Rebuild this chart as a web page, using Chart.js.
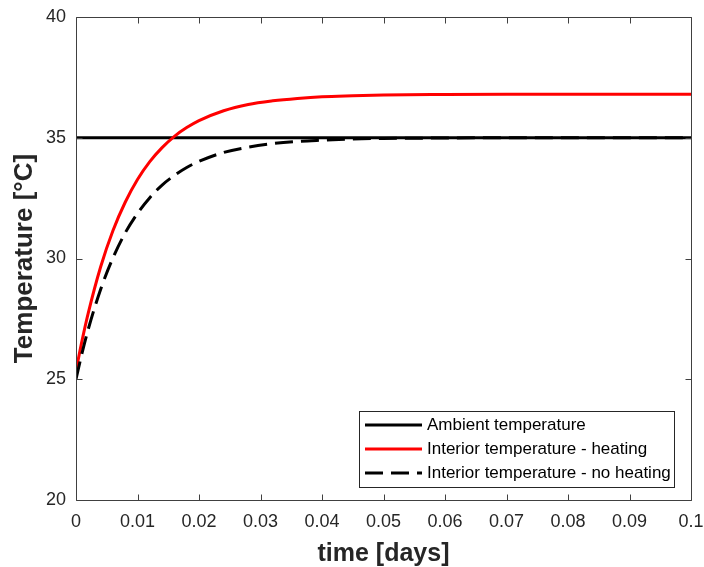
<!DOCTYPE html>
<html lang="en">
<head>
    <meta charset="UTF-8">
    <title>Interior temperature</title>
    <script src="https://cdn.jsdelivr.net/npm/chart.js"></script>
    <style>
        body {
            margin: 0;
            padding: 0;
            background-color: #fff;
        }

        .chart-container {
            position: relative;
            width: 704px;
            height: 567px;
        }
    </style>
</head>
<body>
    <div class="chart-container">
        <canvas id="tempChart"></canvas>
    </div>

    <script>
        // data
        const seriesNames = ["Ambient temperature", "Interior temperature - heating", "Interior temperature - no heating"];
        const ambientTime = [0, 0.1];
        const ambientTemp = [35, 35];
        const timeDays = [0, 0.001, 0.002, 0.004, 0.006, 0.008, 0.010, 0.012, 0.014, 0.016, 0.018, 0.020,
            0.024, 0.028, 0.032, 0.036, 0.040, 0.045, 0.050, 0.060, 0.070, 0.080, 0.090, 0.100];
        const heatingTemp = [25.35, 26.62, 27.75, 29.65, 31.15, 32.33, 33.27, 34.01, 34.59, 35.06, 35.42, 35.71,
            36.12, 36.38, 36.53, 36.63, 36.70, 36.74, 36.77, 36.79, 36.80, 36.80, 36.80, 36.80];
        const noHeatingTemp = [25.0, 26.10, 27.08, 28.72, 30.02, 31.06, 31.87, 32.52, 33.04, 33.44, 33.77, 34.02,
            34.39, 34.61, 34.76, 34.85, 34.90, 34.95, 34.97, 34.99, 35.0, 35.0, 35.0, 35.0];

        const xTickValues = [0, 0.01, 0.02, 0.03, 0.04, 0.05, 0.06, 0.07, 0.08, 0.09, 0.1];
        const xTickLabels = ["0", "0.01", "0.02", "0.03", "0.04", "0.05", "0.06", "0.07", "0.08", "0.09", "0.1"];
        const yTickValues = [20, 25, 30, 35, 40];

        const axisColor = "#404040";
        const textColor = "#262626";

        function toPoints(xs, ys) {
            return xs.map((x, i) => ({ x: x, y: ys[i] }));
        }

        // MATLAB style box with inward ticks + legend in the lower right
        const boxPlugin = {
            id: "boxPlugin",
            afterDatasetsDraw(chart) {
                const ctx = chart.ctx;
                const a = chart.chartArea;
                const xs = chart.scales.x;
                const ys = chart.scales.y;
                const L = Math.round(a.left) + 0.5, R = Math.round(a.right) + 0.5;
                const T = Math.round(a.top) + 0.5, B = Math.round(a.bottom) + 0.5;
                ctx.save();
                ctx.strokeStyle = axisColor;
                ctx.lineWidth = 1;
                ctx.setLineDash([]);
                ctx.beginPath();
                ctx.rect(L, T, R - L, B - T);
                xTickValues.forEach(v => {
                    const px = Math.round(xs.getPixelForValue(v)) + 0.5;
                    ctx.moveTo(px, B); ctx.lineTo(px, B - 6);
                    ctx.moveTo(px, T); ctx.lineTo(px, T + 6);
                });
                yTickValues.forEach(v => {
                    const py = Math.round(ys.getPixelForValue(v)) + 0.5;
                    ctx.moveTo(L, py); ctx.lineTo(L + 6, py);
                    ctx.moveTo(R, py); ctx.lineTo(R - 6, py);
                });
                ctx.stroke();

                // legend
                const lx = 359.5, ly = 411.5, lw = 315, lh = 76;
                ctx.fillStyle = "#fff";
                ctx.fillRect(lx, ly, lw, lh);
                ctx.strokeStyle = "#262626";
                ctx.strokeRect(lx, ly, lw, lh);
                const rowY = [425, 449, 473];
                ctx.font = "17px 'Liberation Sans', Arial, sans-serif";
                ctx.textBaseline = "middle";
                chart.data.datasets.forEach((ds, i) => {
                    ctx.strokeStyle = ds.borderColor;
                    ctx.lineWidth = ds.borderWidth;
                    ctx.setLineDash(ds.borderDash || []);
                    ctx.beginPath();
                    ctx.moveTo(365, rowY[i]);
                    ctx.lineTo(422, rowY[i]);
                    ctx.stroke();
                    ctx.fillStyle = "#000";
                    ctx.fillText(ds.label, 427, rowY[i]);
                });
                ctx.restore();
            }
        };

        const ctx = document.getElementById("tempChart");

        new Chart(ctx, {
            type: "line",
            data: {
                datasets: [
                    {
                        label: seriesNames[0],
                        data: toPoints(ambientTime, ambientTemp),
                        borderColor: "#000000",
                        borderWidth: 3,
                        pointRadius: 0,
                        order: 3
                    },
                    {
                        label: seriesNames[1],
                        data: toPoints(timeDays, heatingTemp),
                        borderColor: "#ff0000",
                        borderWidth: 3,
                        pointRadius: 0,
                        cubicInterpolationMode: "monotone",
                        order: 2
                    },
                    {
                        label: seriesNames[2],
                        data: toPoints(timeDays, noHeatingTemp),
                        borderColor: "#000000",
                        borderWidth: 3,
                        borderDash: [18, 8],
                        pointRadius: 0,
                        cubicInterpolationMode: "monotone",
                        order: 1
                    }
                ]
            },
            options: {
                responsive: true,
                maintainAspectRatio: false,
                animation: false,
                layout: { padding: { top: 17, right: 13, left: 0, bottom: 0 } },
                plugins: {
                    legend: { display: false },
                    tooltip: { enabled: false }
                },
                scales: {
                    x: {
                        type: "linear",
                        min: 0,
                        max: 0.1,
                        afterBuildTicks: s => { s.ticks = xTickValues.map(v => ({ value: v })); },
                        afterFit: s => { s.height = 67; s.paddingLeft = 0; s.paddingRight = 0; },
                        grid: { display: false, drawTicks: false },
                        border: { display: false },
                        ticks: {
                            padding: 11,
                            maxRotation: 0,
                            autoSkip: false,
                            color: textColor,
                            font: { family: "'Liberation Sans', Arial, sans-serif", size: 18 },
                            callback: (value, index) => xTickLabels[index]
                        },
                        title: {
                            display: true,
                            text: "time [days]",
                            color: textColor,
                            padding: { top: 1, bottom: 0 },
                            font: { family: "'Liberation Sans', Arial, sans-serif", size: 25, weight: "bold", lineHeight: 1 }
                        }
                    },
                    y: {
                        type: "linear",
                        min: 20,
                        max: 40,
                        afterBuildTicks: s => { s.ticks = yTickValues.map(v => ({ value: v })); },
                        afterFit: s => { s.width = 76; s.paddingTop = 0; s.paddingBottom = 0; },
                        grid: { display: false, drawTicks: false },
                        border: { display: false },
                        ticks: {
                            padding: 10,
                            color: textColor,
                            font: { family: "'Liberation Sans', Arial, sans-serif", size: 18 }
                        },
                        title: {
                            display: true,
                            text: "Temperature [°C]",
                            color: textColor,
                            padding: { top: 12, bottom: 0 },
                            font: { family: "'Liberation Sans', Arial, sans-serif", size: 26, weight: "bold", lineHeight: 1 }
                        }
                    }
                }
            },
            plugins: [boxPlugin]
        });
    </script>
</body>
</html>
